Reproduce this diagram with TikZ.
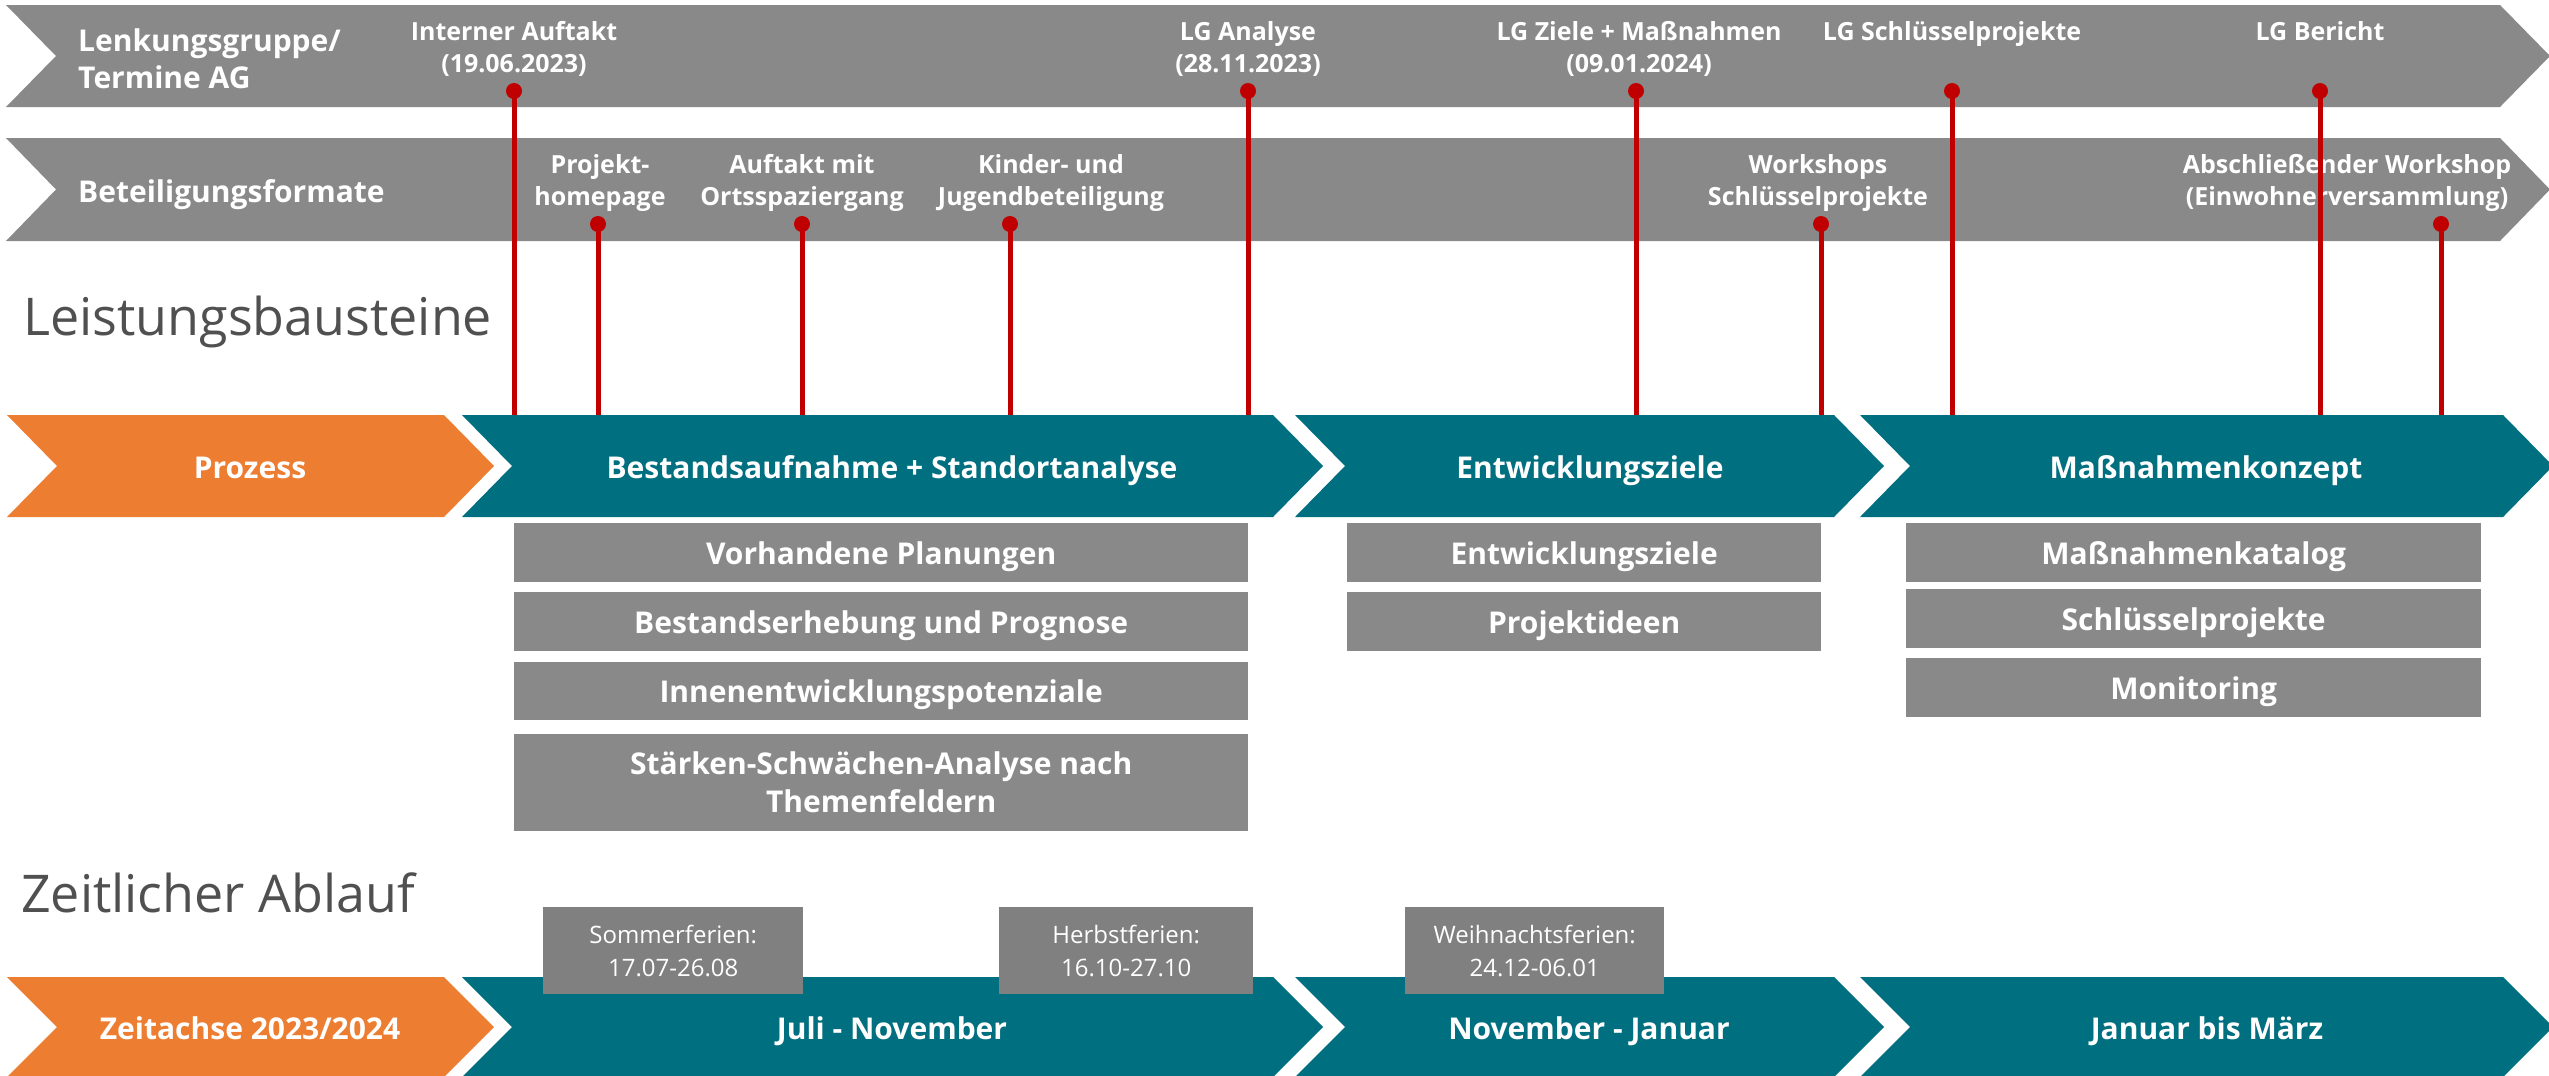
\documentclass[tikz,border=0pt]{standalone}
\usepackage{fontspec}
\setmainfont{Open Sans}
\definecolor{cgray}{RGB}{137,137,137}
\definecolor{cferien}{RGB}{128,128,128}
\definecolor{cteal}{RGB}{0,111,128}
\definecolor{corange}{RGB}{237,125,49}
\definecolor{cred}{RGB}{192,0,0}
\definecolor{chead}{RGB}{80,80,80}
% chevron: colour, left x, right x, top y, bottom y
\newcommand{\chevshape}[5]{\fill[#1] (#2,#4) -- (#3,#4) -- ({#3+50},{(#4+#5)/2}) -- (#3,#5) -- (#2,#5) -- ({#2+50},{(#4+#5)/2}) -- cycle;}
\begin{document}
\begin{tikzpicture}[x=1pt,y=-1pt,
  pinlab/.style={text=white,font=\fontsize{25}{32}\selectfont\bfseries,align=center,anchor=base,inner sep=0pt},
  rowlab/.style={text=white,font=\fontsize{30}{37}\selectfont\bfseries,align=left,anchor=base west,inner sep=0pt},
  chevlab/.style={text=white,font=\fontsize{30}{36}\selectfont\bfseries,anchor=base,inner sep=0pt},
  heading/.style={text=chead,font=\fontsize{52}{60}\selectfont,anchor=base west,inner sep=0pt},
  taskbox/.style={fill=cgray,text=white,font=\fontsize{30}{38}\selectfont\bfseries,align=center,inner sep=0pt,anchor=north west},
  taskone/.style={taskbox,text depth=0pt},
  ferienbox/.style={fill=cferien,text=white,font=\fontsize{24}{33}\selectfont,align=center,inner sep=0pt,anchor=north west,minimum height=87pt},
  pindot/.style={circle,fill=cred,minimum size=16pt,inner sep=0pt},
  pinline/.style={draw=cred,line width=5pt}]
\useasboundingbox (0,0) rectangle (2549,1076);
% top grey rows
\chevshape{cgray}{6}{2500}{5}{107}
\chevshape{cgray}{6}{2500}{138}{241}
\node[rowlab] (rowA) at (78,88) {Lenkungsgruppe/\\Termine AG};
\node[rowlab] (rowB) at (78,202) {Beteiligungsformate};
% row 1 labels (anchor = baseline of last line)
\node[pinlab] (lA) at (514,72) {Interner Auftakt\\(19.06.2023)};
\node[pinlab] (lB) at (1248,72) {LG Analyse\\(28.11.2023)};
\node[pinlab] (lC) at (1639,72) {LG Ziele + Maßnahmen\\(09.01.2024)};
\node[pinlab] (lD) at (1952,40) {LG Schlüsselprojekte};
\node[pinlab] (lE) at (2320,40) {LG Bericht};
% row 2 labels
\node[pinlab] (lF) at (600,205) {Projekt-\\homepage};
\node[pinlab] (lG) at (802,205) {Auftakt mit\\Ortsspaziergang};
\node[pinlab] (lH) at (1051,205) {Kinder- und\\Jugendbeteiligung};
\node[pinlab] (lI) at (1818,205) {Workshops\\Schlüsselprojekte};
\node[pinlab] (lJ) at (2347,205) {Abschließender Workshop\\(Einwohnerversammlung)};
% headings
\node[heading] (hL) at (23,335) {Leistungsbausteine};
\node[heading] (hZ) at (21,912) {Zeitlicher Ablauf};
% process row
\chevshape{corange}{7}{444}{415}{517}
\chevshape{cteal}{462}{1273}{415}{517}
\chevshape{cteal}{1295}{1834}{415}{517}
\chevshape{cteal}{1860}{2503}{415}{517}
\node[chevlab] (c0) at (250,478) {Prozess};
\node[chevlab] (c1) at (892,478) {Bestandsaufnahme + Standortanalyse};
\node[chevlab] (c2) at (1590,478) {Entwicklungsziele};
\node[chevlab] (c3) at (2206,478) {Maßnahmenkonzept};
% task boxes
\node[taskone,minimum width=734pt,minimum height=59pt] (b1) at (514,523) {Vorhandene Planungen};
\node[taskone,minimum width=734pt,minimum height=59pt] (b2) at (514,592) {Bestandserhebung und Prognose};
\node[taskone,minimum width=734pt,minimum height=58pt] (b3) at (514,662) {Innenentwicklungspotenziale};
\node[taskbox,minimum width=734pt,minimum height=97pt] (b4) at (514,734) {Stärken-Schwächen-Analyse nach\\Themenfeldern};
\node[taskone,minimum width=474pt,minimum height=59pt] (e1) at (1347,523) {Entwicklungsziele};
\node[taskone,minimum width=474pt,minimum height=59pt] (e2) at (1347,592) {Projektideen};
\node[taskone,minimum width=575pt,minimum height=59pt] (m1) at (1906,523) {Maßnahmenkatalog};
\node[taskone,minimum width=575pt,minimum height=59pt] (m2) at (1906,589) {Schlüsselprojekte};
\node[taskone,minimum width=575pt,minimum height=59pt] (m3) at (1906,658) {Monitoring};
% time row
\chevshape{corange}{7}{444}{977}{1077}
\chevshape{cteal}{462}{1273}{977}{1077}
\chevshape{cteal}{1295}{1834}{977}{1077}
\chevshape{cteal}{1860}{2503}{977}{1077}
\node[chevlab] (t0) at (250,1039) {Zeitachse 2023/2024};
\node[chevlab] (t1) at (892,1039) {Juli - November};
\node[chevlab] (t2) at (1589,1039) {November - Januar};
\node[chevlab] (t3) at (2207,1039) {Januar bis März};
\node[ferienbox,minimum width=260pt] (f1) at (543,907) {Sommerferien:\\17.07-26.08};
\node[ferienbox,minimum width=254pt] (f2) at (999,907) {Herbstferien:\\16.10-27.10};
\node[ferienbox,minimum width=259pt] (f3) at (1405,907) {Weihnachtsferien:\\24.12-06.01};
% pins
\foreach \n/\x/\y in {A/514/91,B/1248/91,C/1636/91,D/1952/91,E/2320/91,F/598/224,G/802/224,H/1010/224,I/1821/224,J/2441/224}{
  \node[pindot] (p\n) at (\x,\y) {};
  \coordinate (q\n) at (\x,415);
}
\foreach \n in {A,B,C,D,E,F,G,H,I,J}{
  \draw[pinline] (p\n.center) -- (q\n);
}
\end{tikzpicture}
\end{document}
